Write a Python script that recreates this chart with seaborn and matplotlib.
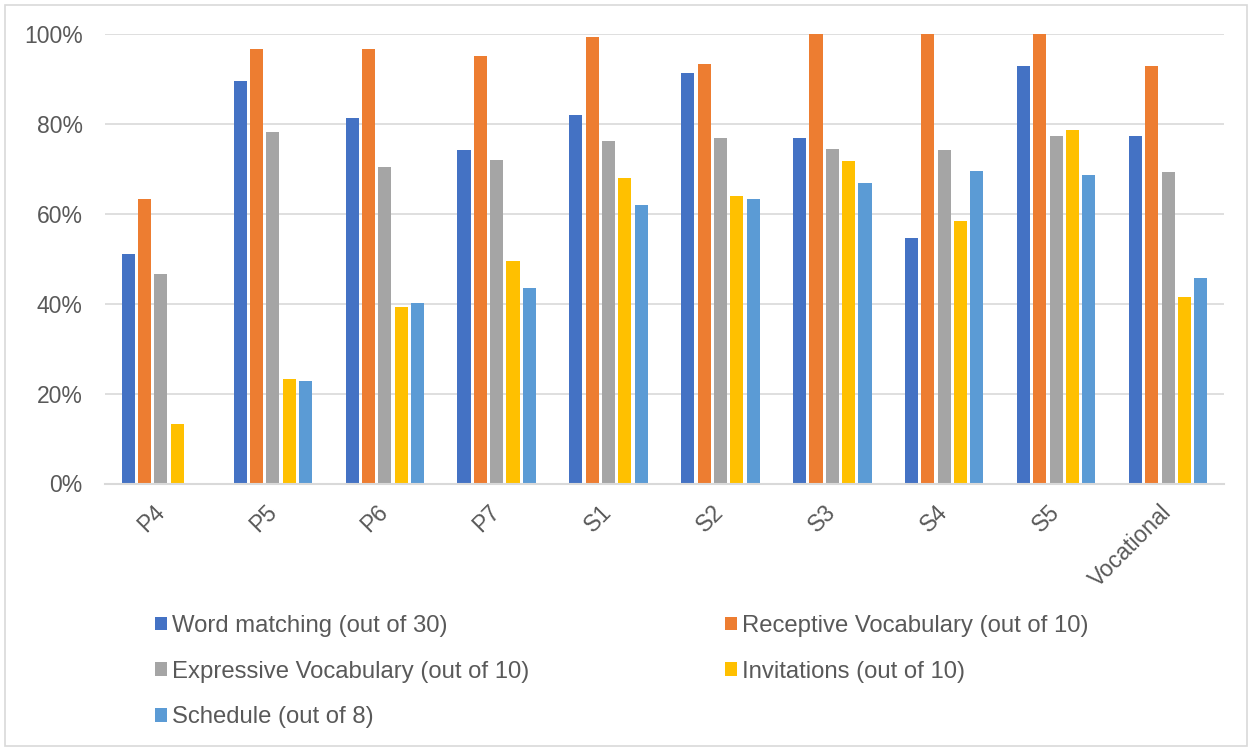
import matplotlib
matplotlib.use("Agg")
import matplotlib.pyplot as plt
import seaborn as sns
import pandas as pd
from matplotlib.patches import Patch, Rectangle
from matplotlib.ticker import PercentFormatter

groups = ["P4", "P5", "P6", "P7", "S1", "S2", "S3", "S4", "S5", "Vocational"]
series_names = [
    "Word matching (out of 30)",
    "Receptive Vocabulary (out of 10)",
    "Expressive Vocabulary (out of 10)",
    "Invitations (out of 10)",
    "Schedule (out of 8)",
]
word_matching = [51.0, 89.5, 81.4, 74.1, 81.9, 91.3, 76.8, 54.7, 92.9, 77.2]
receptive_vocab = [63.2, 96.6, 96.6, 95.0, 99.3, 93.3, 100.0, 100.0, 100.0, 92.9]
expressive_vocab = [46.6, 78.3, 70.5, 72.0, 76.2, 76.9, 74.5, 74.2, 77.4, 69.2]
invitations = [13.2, 23.2, 39.3, 49.6, 67.9, 64.0, 71.7, 58.4, 78.7, 41.6]
schedule = [0.0, 22.8, 40.1, 43.5, 62.0, 63.2, 66.9, 69.6, 68.6, 45.7]
colors = ["#4472C4", "#ED7D31", "#A5A5A5", "#FFC000", "#5B9BD5"]

all_series = [word_matching, receptive_vocab, expressive_vocab, invitations, schedule]
rows = []
for name, vals in zip(series_names, all_series):
    for g, v in zip(groups, vals):
        rows.append({"Group": g, "Test": name, "Score": v})
df = pd.DataFrame(rows)

sns.set_theme(style="white")
plt.rcParams["font.family"] = ["Liberation Sans", "DejaVu Sans"]

fig = plt.figure(figsize=(12.52, 7.51), dpi=100)
ax = fig.add_axes([105 / 1252, 1 - 483.5 / 751, (1224 - 105) / 1252, (483.5 - 34) / 751])

sns.barplot(data=df, x="Group", y="Score", hue="Test", order=groups,
            hue_order=series_names, palette=colors, saturation=1,
            width=0.73, gap=0.2, linewidth=0, errorbar=None,
            legend=False, ax=ax)

ax.set_ylim(0, 100)
ax.set_xlim(-0.5, len(groups) - 0.5)
ax.yaxis.set_major_formatter(PercentFormatter(100, decimals=0))
ax.set_yticks([0, 20, 40, 60, 80, 100])
ax.yaxis.grid(True, color="#D9D9D9", linewidth=1.2)
ax.set_axisbelow(True)
for side in ["left", "right", "top"]:
    ax.spines[side].set_visible(False)
ax.spines["bottom"].set_color("#D9D9D9")
ax.spines["bottom"].set_linewidth(1.5)
ax.set_xlabel("")
ax.set_ylabel("")

ax.tick_params(axis="y", length=0, pad=16, labelsize=16.5, labelcolor="#595959")
ax.tick_params(axis="x", length=0, pad=18, labelsize=16.5, labelcolor="#595959")
for lbl in ax.get_xticklabels():
    lbl.set_rotation(45)
    lbl.set_ha("right")
    lbl.set_va("center")
    lbl.set_rotation_mode("anchor")

# legend laid out row by row across two columns
handles = [Patch(facecolor=c, edgecolor="none") for c in colors]
order = [0, 2, 4, 1, 3]
fig.legend([handles[i] for i in order], [series_names[i] for i in order],
           ncol=2, loc="upper left", bbox_to_anchor=(155 / 1252, 1 - 615 / 751),
           frameon=False, fontsize=17.2, labelcolor="#595959",
           handlelength=0.5, handleheight=0.5, handletextpad=0.21,
           columnspacing=8.2, labelspacing=0.99, borderpad=0, borderaxespad=0)

# thin chart-area border
fig.patches.append(Rectangle((5 / 1252, 5 / 751), 1 - 10 / 1252, 1 - 10 / 751,
                             transform=fig.transFigure, fill=False,
                             edgecolor="#D9D9D9", linewidth=1.2))

fig.savefig("out.png", dpi=100, facecolor="white")
